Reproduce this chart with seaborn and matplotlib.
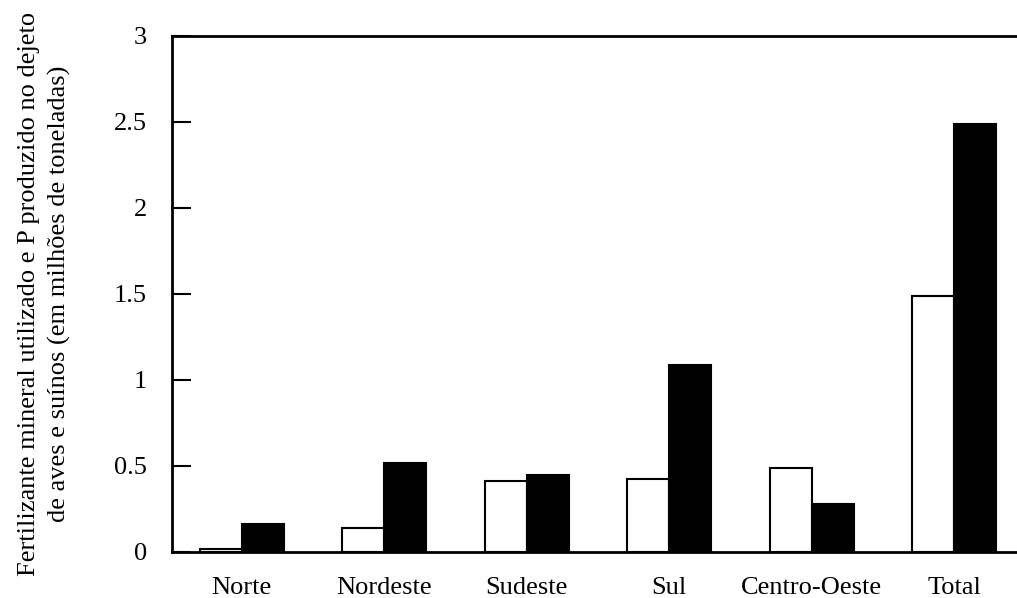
import matplotlib
matplotlib.use("Agg")
import matplotlib.pyplot as plt
import seaborn as sns
import pandas as pd

regioes = ["Norte", "Nordeste", "Sudeste", "Sul", "Centro-Oeste", "Total"]
fertilizante = [0.02, 0.14, 0.41, 0.425, 0.49, 1.49]
dejeto = [0.16, 0.52, 0.45, 1.087, 0.28, 2.49]
series = ["Fertilizante mineral", "P no dejeto"]
yticks = [0, 0.5, 1, 1.5, 2, 2.5, 3]
ytick_labels = ["0", "0.5", "1", "1.5", "2", "2.5", "3"]

df = pd.DataFrame({
    "regiao": regioes * 2,
    "valor": fertilizante + dejeto,
    "serie": [series[0]] * len(regioes) + [series[1]] * len(regioes),
})

sns.set_theme(style="white")
plt.rcParams["font.family"] = ["Liberation Serif", "DejaVu Serif"]

fig = plt.figure(figsize=(10.17, 5.98), dpi=100)
ax = fig.add_axes([172 / 1017, 46 / 598, 1 - 172 / 1017, (552 - 36) / 598])

sns.barplot(data=df, x="regiao", y="valor", hue="serie", order=regioes,
            hue_order=series, palette=["white", "black"], edgecolor="black",
            linewidth=1.5, width=0.59, gap=0, legend=False, ax=ax)

ax.set_xlim(-0.49, 5.44)
ax.set_ylim(0, 3)
ax.set_yticks(yticks)
ax.set_yticklabels(ytick_labels)
ax.tick_params(axis="y", direction="in", length=14, width=1.5, pad=18,
               labelsize=19, left=True, colors="black")
ax.tick_params(axis="x", length=0, pad=18, labelsize=19, colors="black")
for lab in ax.get_xticklabels() + ax.get_yticklabels():
    lab.set_color("black")

for s in ["left", "top", "bottom"]:
    ax.spines[s].set_visible(True)
    ax.spines[s].set_color("black")
    ax.spines[s].set_linewidth(2)
ax.spines["right"].set_visible(False)

ax.set_xlabel("")
ax.set_ylabel("Fertilizante mineral utilizado e P produzido no dejeto\n"
              "de aves e suínos (em milhões de toneladas)",
              fontsize=19, color="black", labelpad=31, linespacing=1.45)

fig.savefig("out.png", dpi=100)
